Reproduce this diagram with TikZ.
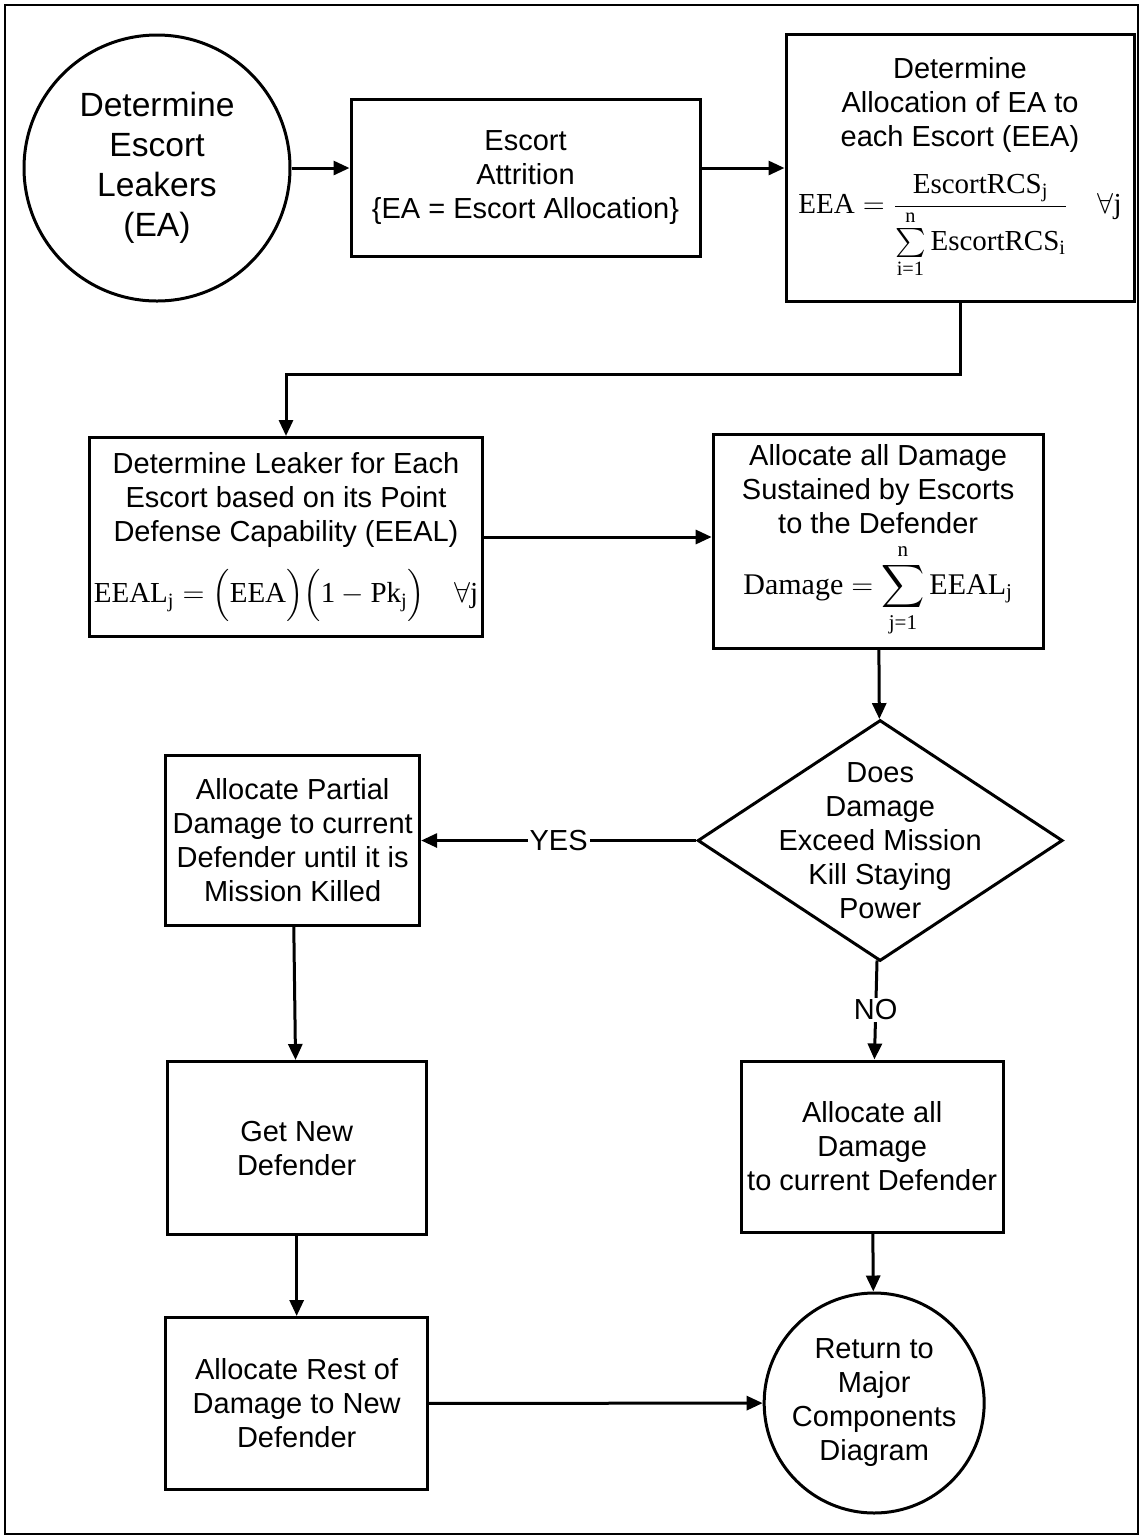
\documentclass[tikz,border=0pt]{standalone}
\usepackage{amsmath}
\usepackage{amssymb}
\usepackage{fontspec}
\setmainfont{Liberation Sans}
\newfontfamily\tnr{Liberation Serif}
\usetikzlibrary{shapes.geometric,arrows.meta,positioning}
\newcommand{\tx}[1]{\text{\tnr #1}}

\begin{document}
\begin{tikzpicture}[x=0.5pt, y=-0.5pt,
        box/.style={rectangle, draw, line width=1.5pt, align=center, inner sep=2pt, font=\fontsize{14.5}{17}\selectfont},
        terminal/.style={circle, draw, line width=1.5pt, align=center, inner sep=0pt},
        decision/.style={diamond, draw, line width=1.5pt, inner sep=0pt, minimum width=182.5pt, minimum height=120.5pt},
        arrow/.style={-{Triangle[length=8pt, width=7pt]}, line width=1.5pt},
        answer/.style={fill=white, inner sep=1pt, font=\fontsize{14.5}{17}\selectfont}]
    \useasboundingbox (0,0) rectangle (1143,1539);
    \draw[line width=1pt] (5,5) rectangle (1138,1534);

    \node[terminal, minimum size=133pt, font=\fontsize{16.8}{20}\selectfont] (leakers) at (157,168) {Determine\\Escort\\Leakers\\(EA)};
    \node[box, minimum width=174.5pt, minimum height=78.5pt, right=29pt of leakers, yshift=-5pt] (attrition) {Escort\\Attrition\\\{EA = Escort Allocation\}};
    \node[box, minimum width=174pt, minimum height=133.5pt, right=41.5pt of attrition, yshift=5pt] (allocation) {Determine\\Allocation of EA to\\each Escort (EEA)\\[10pt]
        $\tx{EEA} = \dfrac{\tx{EscortRCS}_{\tx{j}}}{\sum\limits_{\tx{i=1}}^{\tx{n}}\tx{EscortRCS}_{\tx{i}}}\quad\forall\tx{j}$};
    \node[box, minimum width=196pt, minimum height=99.5pt] (leak) at (286,537) {Determine Leaker for Each\\Escort based on its Point\\Defense Capability (EEAL)\\[10pt]
        $\tx{EEAL}_{\tx{j}} = \Bigl(\tx{EEA}\Bigr)\Bigl(\tx{1} - \tx{Pk}_{\tx{j}}\Bigr)\quad\forall\tx{j}$};
    \node[box, minimum width=165pt, minimum height=107pt, right=114pt of leak, yshift=-2pt] (damage) {Allocate all Damage\\Sustained by Escorts\\to the Defender\\[4pt]
        {\fontsize{15}{18}\selectfont$\displaystyle\tx{Damage} = \sum_{\tx{j=1}}^{\tx{n}}\tx{EEAL}_{\tx{j}}$}};
    \node[decision, below=34.5pt of damage, xshift=1pt, label={[align=center, font=\fontsize{14.5}{17}\selectfont]center:Does\\Damage\\Exceed Mission\\Kill Staying\\Power}] (exceed) {};
    \node[box, minimum width=127pt, minimum height=85pt, left=137.5pt of exceed] (partial) {Allocate Partial\\Damage to current\\Defender until it is\\Mission Killed};
    \node[box, minimum width=129.5pt, minimum height=86.5pt, below=66.5pt of partial, xshift=2pt] (getnew) {Get New\\Defender};
    \node[box, minimum width=131pt, minimum height=86pt, below=40pt of getnew] (rest) {Allocate Rest of\\Damage to New\\Defender};
    \node[box, minimum width=131pt, minimum height=85.5pt, below=48.5pt of exceed, xshift=-4pt] (current) {Allocate all\\Damage\\to current Defender};
    \node[terminal, minimum size=110pt, font=\fontsize{14.5}{17}\selectfont, below=29pt of current, xshift=1pt] (return) {Return to\\Major\\Components\\Diagram};

    \draw[arrow] (leakers.east) -- (leakers.east -| attrition.west);
    \draw[arrow] (attrition.east |- allocation.west) -- (allocation.west);
    \draw[arrow] (allocation.south) -- ++(0,71) -| (leak.north);
    \draw[arrow] (leak.east) -- (leak.east -| damage.west);
    \draw[arrow] (damage) -- (exceed);
    \draw[arrow] (exceed) -- node[answer] {YES} (partial);
    \draw[arrow] (exceed) -- node[answer] {NO} (current);
    \draw[arrow] (partial) -- (getnew);
    \draw[arrow] (getnew) -- (rest);
    \draw[arrow] (current) -- (return);
    \draw[arrow] (rest) -- (return);
\end{tikzpicture}
\end{document}
